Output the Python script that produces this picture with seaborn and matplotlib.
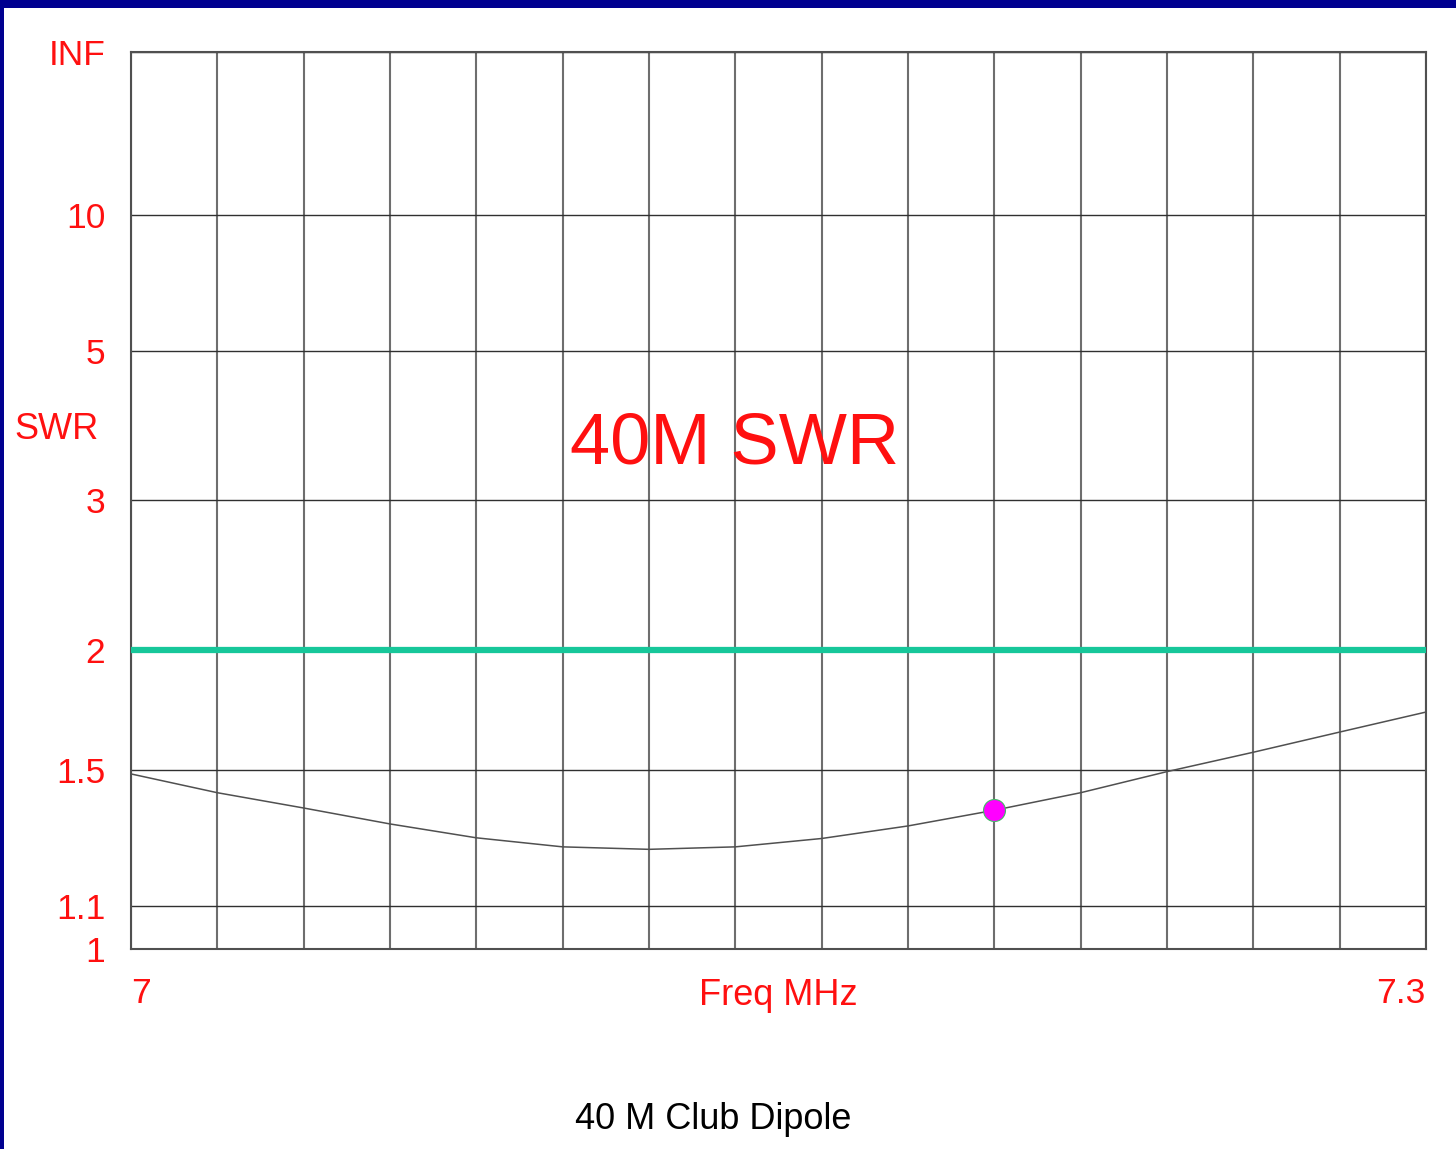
import numpy as np
import matplotlib.pyplot as plt
import seaborn as sns
from matplotlib.patches import Rectangle

# --- data ---
freq_mhz = [7.00, 7.02, 7.04, 7.06, 7.08, 7.10, 7.12, 7.14,
            7.16, 7.18, 7.20, 7.22, 7.24, 7.26, 7.28, 7.30]
swr = [1.485, 1.422, 1.373, 1.324, 1.283, 1.257, 1.250, 1.257,
       1.281, 1.318, 1.366, 1.422, 1.493, 1.562, 1.638, 1.718]
marker_freq = [7.20]
marker_swr = [1.366]
limit_swr = 2.0
swr_ticks = [1, 1.1, 1.5, 2, 3, 5, 10, 1e12]   # 1e12 stands in for infinity
swr_tick_labels = ['1', '1.1', '1.5', '2', '3', '5', '10', 'INF']
x_grid = [7.00, 7.02, 7.04, 7.06, 7.08, 7.10, 7.12, 7.14,
          7.16, 7.18, 7.20, 7.22, 7.24, 7.26, 7.28, 7.30]

sns.set_theme(style='white')
plt.rcParams['font.family'] = ['Liberation Sans', 'DejaVu Sans']

RED = '#FF1010'


# SWR axis is linear in reflection coefficient rho = (s-1)/(s+1)
def to_rho(s):
    s = np.asarray(s, dtype=float)
    return 1 - 2 / (s + 1)


def from_rho(r):
    r = np.asarray(r, dtype=float)
    with np.errstate(divide='ignore', invalid='ignore'):
        return (1 + r) / (1 - r)


W, H = 1456, 1149
fig = plt.figure(figsize=(W / 100, H / 100), dpi=100)
fig.patch.set_facecolor('white')
ax = fig.add_axes([131 / W, 1 - 949 / H, (1426 - 131) / W, (949 - 52) / H])
ax.set_yscale('function', functions=(to_rho, from_rho))
ax.set_xlim(7.0, 7.3)
ax.set_ylim(1, 1e12)

# grid
ax.set_xticks(x_grid)
xlabels = [''] * len(x_grid)
xlabels[0] = '7'
xlabels[-1] = '7.3'
ax.set_xticklabels(xlabels)
ax.set_yticks(swr_ticks)
ax.set_yticklabels(swr_tick_labels)
ax.minorticks_off()
ax.xaxis.grid(True, color='#6e6e6e', lw=1.5)
ax.yaxis.grid(True, color='#303030', lw=1.0)
ax.set_axisbelow(True)
for sp in ax.spines.values():
    sp.set_color('#505050')
    sp.set_linewidth(1.5)

ax.tick_params(axis='both', length=0, labelsize=25.5, labelcolor=RED)
ax.tick_params(axis='y', pad=18.5)
ax.tick_params(axis='x', pad=20)
tl = ax.get_xticklabels()
tl[0].set_horizontalalignment('left')
tl[-1].set_horizontalalignment('right')

# 2:1 limit line
ax.axhline(limit_swr, color='#17C79A', lw=4.5, zorder=3)

# SWR curve and marker
sns.lineplot(x=freq_mhz, y=swr, color='#505050', lw=1.1, ax=ax, zorder=4)
sns.scatterplot(x=marker_freq, y=marker_swr, s=250, color='#FF00FF',
                edgecolor='#44BB66', linewidth=0.8, ax=ax, zorder=5)

ax.set_xlabel('')
ax.set_ylabel('')

# texts
ax.text(0.4664, 0.5418, '40M SWR', transform=ax.transAxes, color=RED,
        fontsize=52, ha='center', va='baseline')
ax.text(0.5, -29 / 897, 'Freq MHz', transform=ax.transAxes, color=RED,
        fontsize=26, ha='center', va='top')
fig.text(14 / W, 1 - 439 / H, 'SWR', color=RED, fontsize=26,
         ha='left', va='baseline')
fig.text(713 / W, 1 - 1129 / H, '40 M Club Dipole', color='black',
         fontsize=26, ha='center', va='baseline')

# navy frame on top and left
fig.add_artist(Rectangle((0, 1 - 8 / H), 1, 8 / H, transform=fig.transFigure,
                         facecolor='#000090', edgecolor='none'))
fig.add_artist(Rectangle((0, 0), 4 / W, 1, transform=fig.transFigure,
                         facecolor='#000090', edgecolor='none'))

fig.savefig('out.png', dpi=100)
